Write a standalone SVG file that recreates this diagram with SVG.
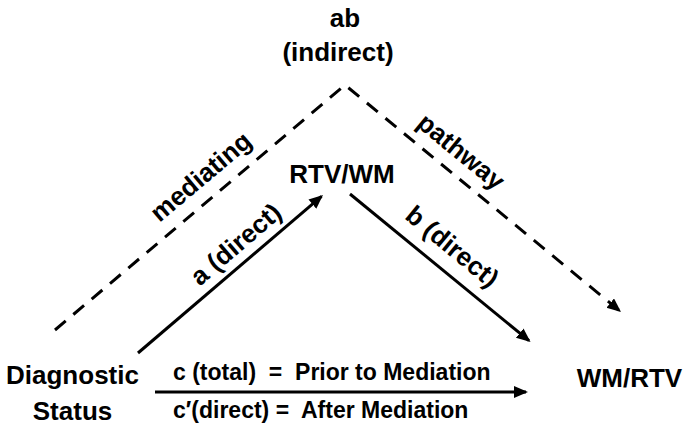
<svg xmlns="http://www.w3.org/2000/svg" width="687" height="427" viewBox="0 0 687 427">
  <style>
    .lbl { font-family: "Liberation Sans", Arial, sans-serif; font-weight: bold; fill: #000; }
    .big { font-size: 26px; }
    .mid { font-size: 23px; }
    .solid { stroke: #000; stroke-width: 3; fill: none; }
    .dash { stroke: #000; stroke-width: 3; fill: none; stroke-dasharray: 14 10; stroke-linejoin: miter; }
  </style>
  <defs>
    <marker id="arr" markerUnits="userSpaceOnUse" markerWidth="16" markerHeight="14" refX="12" refY="6" orient="auto">
      <path d="M0,0 L14,6 L0,12 Z" fill="#000"/>
    </marker>
  </defs>
  <rect width="687" height="427" fill="#fff"/>

  <g id="connectors">
    <polyline id="mediating-pathway" class="dash" points="55,330 345,85 619.5,310.7" marker-end="url(#arr)"/>
    <line id="a-direct" class="solid" x1="138" y1="353" x2="321.5" y2="196.3" marker-end="url(#arr)"/>
    <line id="b-direct" class="solid" x1="350" y1="194" x2="529" y2="340.7" marker-end="url(#arr)"/>
    <line id="c-total" class="solid" x1="155" y1="392" x2="526" y2="392" stroke-width="3.5" marker-end="url(#arr)"/>
  </g>

  <g id="node-ab">
    <text class="lbl big" x="345" y="27" text-anchor="middle">ab</text>
    <text class="lbl big" x="338" y="61" text-anchor="middle">(indirect)</text>
  </g>
  <g id="node-rtvwm">
    <text class="lbl big" x="342" y="183" text-anchor="middle">RTV/WM</text>
  </g>
  <g id="node-wmrtv">
    <text class="lbl big" x="629.5" y="387" text-anchor="middle">WM/RTV</text>
  </g>
  <g id="node-diagnostic">
    <text class="lbl big" x="72.5" y="384" text-anchor="middle">Diagnostic</text>
    <text class="lbl big" x="72.5" y="420" text-anchor="middle">Status</text>
  </g>

  <g id="edge-labels">
    <text class="lbl big" x="0" y="0" text-anchor="middle" transform="translate(206.5,183.4) rotate(-40.2)">mediating</text>
    <text class="lbl big" x="0" y="0" text-anchor="middle" transform="translate(455.6,158.4) rotate(39.4)">pathway</text>
    <text class="lbl big" x="0" y="0" text-anchor="middle" transform="translate(241.5,251) rotate(-40.5)">a (direct)</text>
    <text class="lbl big" x="0" y="0" text-anchor="middle" transform="translate(446.6,253.4) rotate(39.4)">b (direct)</text>
    <text class="lbl mid" x="173" y="380" xml:space="preserve">c (total)  =  Prior to Mediation</text>
    <text class="lbl mid" x="173" y="418" xml:space="preserve">c′(direct) =  After Mediation</text>
  </g>
</svg>
